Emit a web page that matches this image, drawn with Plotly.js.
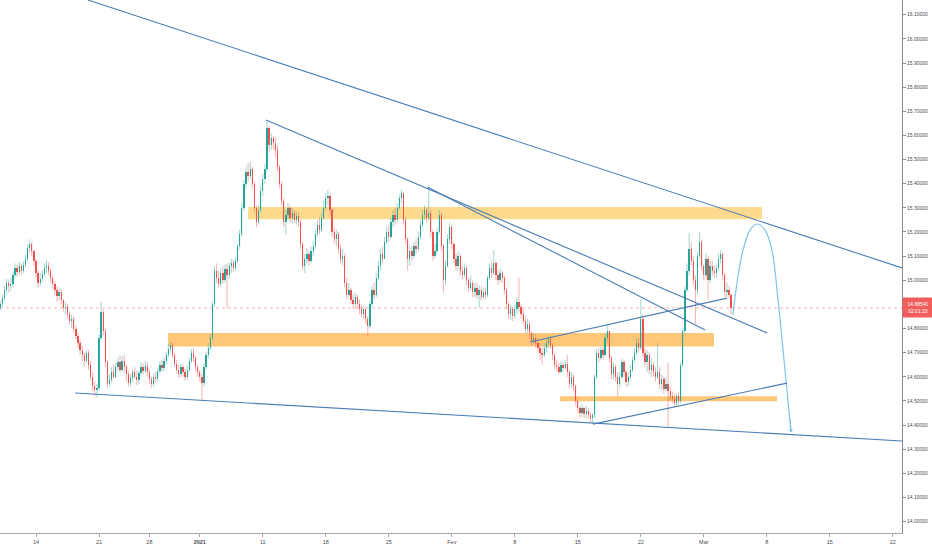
<!DOCTYPE html>
<html>
<head>
<meta charset="utf-8">
<script src="https://cdn.plot.ly/plotly-3.0.1.min.js"></script>
<style>
  html, body { margin: 0; padding: 0; background: #fff; }
  #chart { width: 932px; height: 550px; }
</style>
</head>
<body>
<div id="chart"></div>
<script>
// USD/ZAR 4h candles. open of a bar = close of the one before
const firstOpen = 14.885;
const closes = [
  14.900, 14.925, 14.960, 14.990, 14.975, 14.985, 15.020, 15.050, 15.035, 15.060,
  15.040, 15.065, 15.090, 15.135, 15.150, 15.120, 15.080, 15.030, 14.990, 15.005,
  15.025, 15.050, 15.060, 15.040, 15.010, 14.985, 14.960, 14.935, 14.950, 14.920,
  14.885, 14.890, 14.860, 14.830, 14.840, 14.800, 14.770, 14.740, 14.710, 14.690,
  14.665, 14.700, 14.650, 14.600, 14.560, 14.545, 14.555, 14.760, 14.870, 14.790,
  14.660, 14.570, 14.585, 14.620, 14.600, 14.640, 14.660, 14.630, 14.665, 14.640,
  14.610, 14.575, 14.595, 14.620, 14.600, 14.585, 14.615, 14.640, 14.625, 14.645,
  14.620, 14.590, 14.570, 14.600, 14.590, 14.625, 14.650, 14.635, 14.665, 14.690,
  14.715, 14.730, 14.690, 14.655, 14.630, 14.610, 14.640, 14.620, 14.600, 14.630,
  14.665, 14.700, 14.680, 14.640, 14.620, 14.600, 14.575, 14.640, 14.690, 14.720,
  14.760, 14.900, 15.040, 15.010, 14.985, 15.030, 15.000, 15.045, 15.020, 15.060,
  15.070, 15.050, 15.080, 15.140, 15.190, 15.300, 15.400, 15.450, 15.430, 15.460,
  15.400, 15.300, 15.240, 15.290, 15.370, 15.420, 15.460, 15.630, 15.560, 15.590,
  15.570, 15.540, 15.470, 15.400, 15.330, 15.240, 15.270, 15.300, 15.260, 15.280,
  15.250, 15.265, 15.240, 15.150, 15.060, 15.090, 15.110, 15.080, 15.120, 15.140,
  15.190, 15.230, 15.210, 15.260, 15.300, 15.340, 15.350, 15.290, 15.200, 15.170,
  15.190, 15.130, 15.090, 15.100, 14.990, 14.940, 14.960, 14.920, 14.900, 14.930,
  14.900, 14.880, 14.860, 14.880, 14.840, 14.810, 14.900, 14.960, 14.940, 15.010,
  15.060, 15.110, 15.090, 15.160, 15.200, 15.180, 15.240, 15.270, 15.250, 15.300,
  15.340, 15.360, 15.250, 15.170, 15.090, 15.120, 15.100, 15.140, 15.130, 15.180,
  15.230, 15.270, 15.290, 15.260, 15.280, 15.200, 15.100, 15.120, 15.200, 15.270,
  15.140, 15.000, 15.060, 15.170, 15.220, 15.150, 15.090, 15.060, 15.100, 15.040,
  15.020, 15.050, 15.000, 14.970, 14.990, 14.950, 14.970, 14.940, 14.960, 14.930,
  14.950, 14.940, 15.010, 15.050, 15.030, 15.070, 15.020, 15.000, 15.030, 15.010,
  14.960, 14.900, 14.860, 14.880, 14.850, 14.880, 14.910, 14.890, 14.860, 14.830,
  14.800, 14.820, 14.780, 14.750, 14.760, 14.740, 14.720, 14.700, 14.690, 14.720,
  14.740, 14.755, 14.730, 14.690, 14.650, 14.640, 14.620, 14.650, 14.635, 14.655,
  14.620, 14.570, 14.600, 14.560, 14.500, 14.470, 14.450, 14.470, 14.445, 14.460,
  14.440, 14.430, 14.440, 14.600, 14.700, 14.680, 14.710, 14.690, 14.760, 14.790,
  14.680, 14.610, 14.640, 14.600, 14.570, 14.600, 14.660, 14.620, 14.580, 14.600,
  14.630, 14.670, 14.700, 14.740, 14.720, 14.840, 14.700, 14.660, 14.690, 14.630,
  14.650, 14.620, 14.600, 14.620, 14.570, 14.590, 14.550, 14.570, 14.540, 14.520,
  14.510, 14.490, 14.520, 14.500, 14.650, 14.790, 14.960, 15.040, 15.130, 15.080,
  15.000, 14.960, 15.100, 15.160, 15.060, 15.020, 15.090, 15.000, 15.060, 15.040,
  15.030, 15.050, 15.090, 15.110, 15.020, 14.950, 14.960, 14.940, 14.885
];
const highs = [
  14.915, 14.940, 14.975, 15.005, 15.000, 15.010, 15.035, 15.070, 15.065, 15.075,
  15.070, 15.080, 15.105, 15.150, 15.170, 15.160, 15.125, 15.090, 15.040, 15.030,
  15.040, 15.070, 15.085, 15.075, 15.050, 15.020, 14.995, 14.975, 14.970, 14.965,
  14.920, 14.910, 14.900, 14.870, 14.860, 14.850, 14.810, 14.780, 14.755, 14.730,
  14.700, 14.710, 14.710, 14.665, 14.620, 14.580, 14.570, 14.775, 14.910, 14.880,
  14.800, 14.670, 14.610, 14.640, 14.650, 14.655, 14.680, 14.690, 14.685, 14.690,
  14.650, 14.625, 14.610, 14.630, 14.640, 14.625, 14.625, 14.660, 14.655, 14.665,
  14.660, 14.630, 14.600, 14.615, 14.620, 14.640, 14.665, 14.670, 14.680, 14.705,
  14.735, 14.745, 14.740, 14.700, 14.670, 14.650, 14.655, 14.650, 14.635, 14.645,
  14.680, 14.715, 14.720, 14.690, 14.650, 14.630, 14.615, 14.655, 14.705, 14.740,
  14.775, 14.915, 15.060, 15.070, 15.040, 15.050, 15.060, 15.065, 15.070, 15.075,
  15.090, 15.085, 15.095, 15.150, 15.210, 15.320, 15.415, 15.470, 15.485, 15.490,
  15.470, 15.410, 15.310, 15.310, 15.390, 15.440, 15.480, 15.664, 15.640, 15.610,
  15.600, 15.590, 15.560, 15.480, 15.410, 15.340, 15.290, 15.320, 15.310, 15.300,
  15.290, 15.285, 15.280, 15.250, 15.160, 15.110, 15.130, 15.120, 15.140, 15.160,
  15.210, 15.250, 15.260, 15.280, 15.330, 15.360, 15.375, 15.360, 15.300, 15.220,
  15.210, 15.200, 15.150, 15.130, 15.110, 15.010, 14.990, 14.970, 14.940, 14.950,
  14.940, 14.920, 14.900, 14.895, 14.890, 14.850, 14.915, 14.975, 14.990, 15.030,
  15.080, 15.130, 15.140, 15.180, 15.220, 15.230, 15.260, 15.290, 15.300, 15.320,
  15.355, 15.375, 15.365, 15.260, 15.180, 15.140, 15.140, 15.160, 15.170, 15.200,
  15.250, 15.290, 15.310, 15.300, 15.385, 15.290, 15.210, 15.150, 15.220, 15.290,
  15.280, 15.150, 15.080, 15.190, 15.240, 15.230, 15.160, 15.110, 15.120, 15.110,
  15.060, 15.070, 15.060, 15.010, 15.020, 15.000, 14.990, 14.990, 14.980, 14.975,
  14.970, 14.970, 15.020, 15.070, 15.080, 15.125, 15.080, 15.040, 15.050, 15.040,
  15.020, 14.970, 14.910, 14.900, 14.890, 14.900, 14.930, 15.010, 14.900, 14.880,
  14.850, 14.840, 14.830, 14.790, 14.780, 14.775, 14.760, 14.740, 14.720, 14.740,
  14.755, 14.770, 14.770, 14.740, 14.700, 14.670, 14.660, 14.665, 14.660, 14.670,
  14.690, 14.630, 14.620, 14.610, 14.570, 14.510, 14.480, 14.485, 14.475, 14.480,
  14.470, 14.455, 14.450, 14.610, 14.715, 14.720, 14.725, 14.720, 14.780, 14.820,
  14.790, 14.690, 14.660, 14.650, 14.620, 14.620, 14.675, 14.670, 14.630, 14.620,
  14.650, 14.685, 14.720, 14.760, 14.760, 14.920, 14.860, 14.720, 14.710, 14.700,
  14.680, 14.660, 14.640, 14.740, 14.640, 14.610, 14.600, 14.600, 14.660, 14.560,
  14.540, 14.530, 14.530, 14.535, 14.660, 14.800, 14.975, 15.070, 15.195, 15.160,
  15.100, 15.020, 15.120, 15.200, 15.170, 15.070, 15.110, 15.100, 15.080, 15.080,
  15.060, 15.065, 15.110, 15.125, 15.115, 15.030, 14.990, 14.975, 14.945
];
const lows = [
  14.875, 14.890, 14.915, 14.945, 14.950, 14.955, 14.970, 15.010, 15.015, 15.025,
  15.020, 15.030, 15.055, 15.080, 15.115, 15.100, 15.060, 15.010, 14.970, 14.975,
  14.995, 15.015, 15.030, 15.020, 14.990, 14.965, 14.940, 14.910, 14.915, 14.900,
  14.870, 14.860, 14.840, 14.815, 14.800, 14.785, 14.755, 14.720, 14.690, 14.665,
  14.640, 14.655, 14.630, 14.585, 14.540, 14.520, 14.515, 14.545, 14.750, 14.770,
  14.640, 14.555, 14.560, 14.575, 14.590, 14.595, 14.625, 14.620, 14.620, 14.615,
  14.580, 14.560, 14.560, 14.580, 14.590, 14.565, 14.570, 14.605, 14.610, 14.615,
  14.600, 14.570, 14.555, 14.560, 14.575, 14.580, 14.615, 14.620, 14.625, 14.650,
  14.680, 14.700, 14.680, 14.640, 14.615, 14.595, 14.600, 14.600, 14.585, 14.590,
  14.620, 14.655, 14.660, 14.625, 14.600, 14.580, 14.500, 14.560, 14.630, 14.675,
  14.710, 14.750, 14.890, 14.990, 14.970, 14.975, 14.985, 14.990, 14.885, 15.005,
  15.030, 15.035, 15.040, 15.070, 15.130, 15.180, 15.290, 15.380, 15.410, 15.420,
  15.380, 15.280, 15.220, 15.230, 15.280, 15.350, 15.400, 15.450, 15.530, 15.540,
  15.540, 15.510, 15.450, 15.380, 15.310, 15.220, 15.190, 15.250, 15.240, 15.235,
  15.235, 15.230, 15.220, 15.130, 15.040, 15.030, 15.070, 15.060, 15.070, 15.100,
  15.130, 15.180, 15.190, 15.200, 15.250, 15.290, 15.310, 15.270, 15.180, 15.150,
  15.140, 15.110, 15.070, 15.060, 14.970, 14.920, 14.930, 14.900, 14.880, 14.890,
  14.880, 14.860, 14.845, 14.840, 14.820, 14.765, 14.800, 14.890, 14.920, 14.930,
  15.000, 15.040, 15.070, 15.090, 15.150, 15.160, 15.170, 15.220, 15.230, 15.240,
  15.290, 15.320, 15.230, 15.150, 15.040, 15.060, 15.080, 15.090, 15.110, 15.120,
  15.170, 15.220, 15.250, 15.240, 15.250, 15.180, 15.080, 15.090, 15.110, 15.190,
  15.120, 14.950, 14.980, 15.050, 15.150, 15.130, 15.070, 15.040, 15.040, 15.020,
  15.000, 15.010, 14.980, 14.950, 14.960, 14.930, 14.930, 14.920, 14.885, 14.915,
  14.920, 14.920, 14.930, 15.000, 15.010, 15.020, 15.000, 14.980, 14.990, 14.990,
  14.940, 14.880, 14.840, 14.835, 14.830, 14.840, 14.860, 14.870, 14.840, 14.815,
  14.780, 14.780, 14.760, 14.730, 14.735, 14.720, 14.700, 14.670, 14.650, 14.680,
  14.700, 14.720, 14.715, 14.670, 14.630, 14.620, 14.610, 14.615, 14.620, 14.630,
  14.600, 14.550, 14.555, 14.540, 14.480, 14.450, 14.430, 14.435, 14.430, 14.430,
  14.425, 14.410, 14.405, 14.430, 14.590, 14.660, 14.670, 14.670, 14.680, 14.740,
  14.660, 14.590, 14.590, 14.580, 14.520, 14.555, 14.590, 14.600, 14.560, 14.560,
  14.590, 14.620, 14.660, 14.690, 14.700, 14.710, 14.680, 14.640, 14.620, 14.610,
  14.600, 14.600, 14.580, 14.590, 14.550, 14.540, 14.530, 14.540, 14.390, 14.500,
  14.490, 14.475, 14.480, 14.485, 14.490, 14.640, 14.780, 14.950, 15.020, 15.060,
  14.980, 14.820, 14.940, 15.090, 15.040, 15.000, 15.010, 14.920, 14.990, 15.020,
  15.010, 15.010, 15.040, 15.070, 15.000, 14.930, 14.930, 14.925, 14.860
];

// x axis in trading days, Mon 14 Dec = 0 (25 Dec and 1 Jan closed)
const firstBarDay = -2.833;
const barsPerDay = 6;
const tickDays = [0, 5, 9, 13, 18, 23, 28, 33, 38, 43, 48, 53, 58, 63, 68];
const tickLabels = ['14', '21', '28', '<b>2021</b>', '11', '18', '25', 'Fev', '8', '15', '22', 'Mar', '8', '15', '22'];

const lastPrice = 14.8854;
const lastPriceText = '14.88540<br>02:01:33';

// drawn trend lines: [day0, price0, day1, price1]
const trendLines = [
  [4.13, 16.161, 68.73, 15.051],
  [18.25, 15.664, 58.02, 14.782],
  [31.10, 15.385, 53.10, 14.794],
  [3.10, 14.533, 68.73, 14.334],
  [44.21, 14.404, 59.60, 14.574],
  [39.21, 14.744, 54.84, 14.926]
];
// supply / demand zones: [day0, day1, priceLow, priceHigh, colour]
const zones = [
  [16.83, 57.62, 15.253, 15.303, '#fdda8e'],
  [10.48, 53.81, 14.726, 14.781, '#ffc878'],
  [41.59, 58.81, 14.499, 14.520, '#ffc878']
];
// projected path
const pathDays = [55.32, 55.63, 56.11, 56.67, 57.22, 57.86, 58.41, 58.89, 59.29, 59.60, 59.92];
const pathPrices = [14.856, 14.989, 15.125, 15.208, 15.233, 15.208, 15.125, 14.918, 14.711, 14.545, 14.371];

const UP = '#26a69a', DOWN = '#ef5350';

const xs = [], base = [], height = [], colors = [];
const upX = [], upY = [], dnX = [], dnY = [];
closes.forEach((c, i) => {
  const o = i === 0 ? firstOpen : closes[i - 1];
  const x = firstBarDay + i / barsPerDay;
  const up = c >= o;
  xs.push(x);
  base.push(Math.min(o, c));
  height.push(Math.abs(c - o));
  colors.push(up ? UP : DOWN);
  if (up) { upX.push(x, x, null); upY.push(lows[i], highs[i], null); }
  else { dnX.push(x, x, null); dnY.push(lows[i], highs[i], null); }
});

const traces = [
  { type: 'scatter', mode: 'lines', x: upX, y: upY, line: { color: 'rgba(38,166,154,0.45)', width: 1 }, hoverinfo: 'skip' },
  { type: 'scatter', mode: 'lines', x: dnX, y: dnY, line: { color: 'rgba(239,83,80,0.45)', width: 1 }, hoverinfo: 'skip' },
  { type: 'bar', x: xs, y: height, base: base, width: 0.1, marker: { color: colors, line: { width: 0 } }, hoverinfo: 'skip' },
  { type: 'scatter', mode: 'lines', x: pathDays, y: pathPrices, line: { color: '#7ec4e6', width: 1.2, shape: 'spline', smoothing: 1 }, hoverinfo: 'skip' }
];

const shapes = [];
zones.forEach(([d0, d1, p0, p1, col]) => {
  shapes.push({ type: 'rect', xref: 'x', yref: 'y', x0: d0, x1: d1, y0: p0, y1: p1, fillcolor: col, line: { width: 0 }, layer: 'below' });
});
shapes.push({ type: 'line', xref: 'paper', yref: 'y', x0: 0, x1: 1, y0: lastPrice, y1: lastPrice, line: { color: 'rgba(239,83,80,0.45)', width: 1, dash: 'dot' }, layer: 'below' });
trendLines.forEach(([d0, p0, d1, p1]) => {
  shapes.push({ type: 'line', xref: 'x', yref: 'y', x0: d0, y0: p0, x1: d1, y1: p1, line: { color: '#4a7db5', width: 1.1 } });
});

const n = pathDays.length;
const annotations = [
  {
    xref: 'x', yref: 'y', axref: 'x', ayref: 'y',
    x: pathDays[n - 1], y: pathPrices[n - 1], ax: pathDays[n - 2] + 0.25, ay: pathPrices[n - 1] + 0.06,
    showarrow: true, arrowhead: 1, arrowsize: 0.8, arrowwidth: 1, arrowcolor: '#7ec4e6', text: ''
  },
  {
    xref: 'paper', yref: 'y', x: 1, y: lastPrice, xanchor: 'left', yanchor: 'middle',
    text: lastPriceText, showarrow: false, bgcolor: '#f05d5b', borderpad: 1, width: 28, height: 17,
    font: { family: 'Liberation Sans, Arial, sans-serif', size: 5, color: '#ffffff' }
  }
];

const layout = {
  width: 932, height: 550,
  margin: { l: 0, r: 30, t: 0, b: 17 },
  paper_bgcolor: '#ffffff', plot_bgcolor: '#ffffff',
  showlegend: false, hovermode: false, bargap: 0,
  font: { family: 'Liberation Sans, Arial, sans-serif', color: '#4a4a4a' },
  xaxis: {
    range: [-2.857, 68.73], tickvals: tickDays, ticktext: tickLabels,
    showgrid: false, zeroline: false, showline: true, linecolor: '#a6a9b0', linewidth: 1,
    ticks: 'outside', ticklen: 3, tickcolor: '#a6a9b0', tickfont: { size: 5.5, color: '#4a4a4a' }, fixedrange: true
  },
  yaxis: {
    side: 'right', range: [13.953, 16.161], tick0: 14, dtick: 0.1, tickformat: '.5f',
    showgrid: false, zeroline: false, showline: true, linecolor: '#8a8d94', linewidth: 1,
    ticks: 'outside', ticklen: 3, tickcolor: '#8a8d94', tickfont: { size: 5, color: '#4a4a4a' }, fixedrange: true
  },
  shapes: shapes,
  annotations: annotations
};

Plotly.newPlot('chart', traces, layout, { displayModeBar: false, staticPlot: true });
</script>
</body>
</html>
